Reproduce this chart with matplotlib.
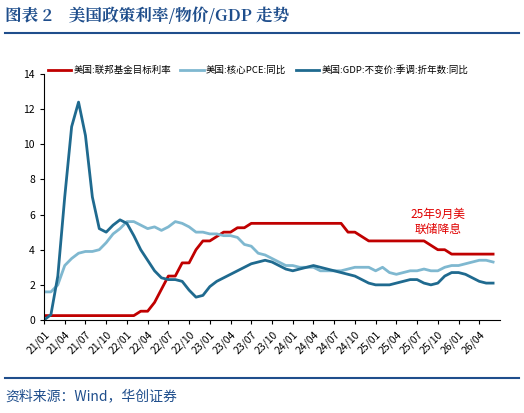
import numpy as np
import matplotlib
matplotlib.use("Agg")
import matplotlib.pyplot as plt
from matplotlib.lines import Line2D

plt.rcParams['font.family'] = ['Noto Sans CJK SC', 'DejaVu Sans']

# monthly data 21/01 .. 26/06
fed_rate = [0.25] * 14 + [0.5, 0.5, 1.0, 1.75, 2.5, 2.5, 3.25, 3.25, 4.0, 4.5,
            4.5, 4.75, 5.0, 5.0, 5.25, 5.25] + [5.5] * 14 + [5.0, 5.0, 4.75, 4.5] + \
           [4.5] * 8 + [4.25, 4.0, 4.0, 3.75] + [3.75] * 6
core_pce = [1.6, 1.6, 2.0, 3.1, 3.5, 3.8, 3.9, 3.9, 4.0, 4.4, 4.9, 5.2,
            5.6, 5.6, 5.4, 5.2, 5.3, 5.1, 5.3, 5.6, 5.5, 5.3, 5.0, 5.0,
            4.9, 4.9, 4.8, 4.8, 4.7, 4.3, 4.2, 3.8, 3.7, 3.5, 3.3, 3.1,
            3.1, 3.0, 3.0, 3.0, 2.8, 2.8, 2.8, 2.8, 2.9, 3.0, 3.0, 3.0,
            2.8, 3.0, 2.7, 2.6, 2.7, 2.8, 2.8, 2.9, 2.8, 2.8, 3.0, 3.1,
            3.1, 3.2, 3.3, 3.4, 3.4, 3.3]
gdp = [0.0, 0.3, 2.5, 7.0, 11.0, 12.4, 10.5, 7.0, 5.2, 5.0, 5.4, 5.7,
       5.5, 4.8, 4.0, 3.4, 2.8, 2.4, 2.3, 2.3, 2.2, 1.7, 1.3, 1.4,
       1.9, 2.2, 2.4, 2.6, 2.8, 3.0, 3.2, 3.3, 3.4, 3.3, 3.1, 2.9,
       2.8, 2.9, 3.0, 3.1, 3.0, 2.9, 2.8, 2.7, 2.6, 2.5, 2.3, 2.1,
       2.0, 2.0, 2.0, 2.1, 2.2, 2.3, 2.3, 2.1, 2.0, 2.1, 2.5, 2.7,
       2.7, 2.6, 2.4, 2.2, 2.1, 2.1]
tick_labels = ['21/01', '21/04', '21/07', '21/10', '22/01', '22/04', '22/07', '22/10',
               '23/01', '23/04', '23/07', '23/10', '24/01', '24/04', '24/07', '24/10',
               '25/01', '25/04', '25/07', '25/10', '26/01', '26/04']

months = np.arange(len(core_pce))
navy = '#1f4e8c'

fig = plt.figure(figsize=(5.24, 4.13), dpi=100)
ax = fig.add_axes([44 / 524, 1 - 320 / 413, 456 / 524, 246 / 413])

ax.plot(months, fed_rate, color='#c00000', lw=2)
ax.plot(months, core_pce, color='#7fb8d0', lw=2)
ax.plot(months, gdp, color='#1f6a8f', lw=2)

ax.set_xlim(0, 66)
ax.set_ylim(0, 14)
ax.set_yticks(range(0, 15, 2))
ax.set_xticks(range(0, 66, 3))
ax.set_xticklabels(tick_labels, rotation=45, ha='right', rotation_mode='anchor')
ax.tick_params(labelsize=7.5, length=3)
for s in ['top', 'right']:
    ax.spines[s].set_visible(False)

ax.text(57, 5.6, '25年9月美\n联储降息', color='#e00000', fontsize=8.5, ha='center', va='center')

handles = [Line2D([], [], color=c, lw=2) for c in ['#c00000', '#7fb8d0', '#1f6a8f']]
ax.legend(handles, ['美国:联邦基金目标利率', '美国:核心PCE:同比', '美国:GDP:不变价:季调:折年数:同比'],
          loc='lower left', bbox_to_anchor=(0.0, 0.98), ncol=3, frameon=False,
          fontsize=6.8, handlelength=2.5, handletextpad=0.2, columnspacing=1.0, borderaxespad=0)

fig.text(0.01, 1 - 16 / 413, '图表 2    美国政策利率/物价/GDP 走势', color=navy, fontsize=12,
         fontweight='bold', va='center', family=['Noto Serif CJK SC', 'Noto Sans CJK SC', 'DejaVu Serif'])
fig.add_artist(Line2D([0.01, 0.99], [1 - 33 / 413] * 2, color=navy, lw=1.5))
fig.add_artist(Line2D([0.01, 0.99], [1 - 378 / 413] * 2, color=navy, lw=1.5))
fig.text(0.01, 1 - 396 / 413, '资料来源：Wind，华创证券', color=navy, fontsize=10,
         style='italic', va='center')

fig.savefig('out.png', dpi=100)
